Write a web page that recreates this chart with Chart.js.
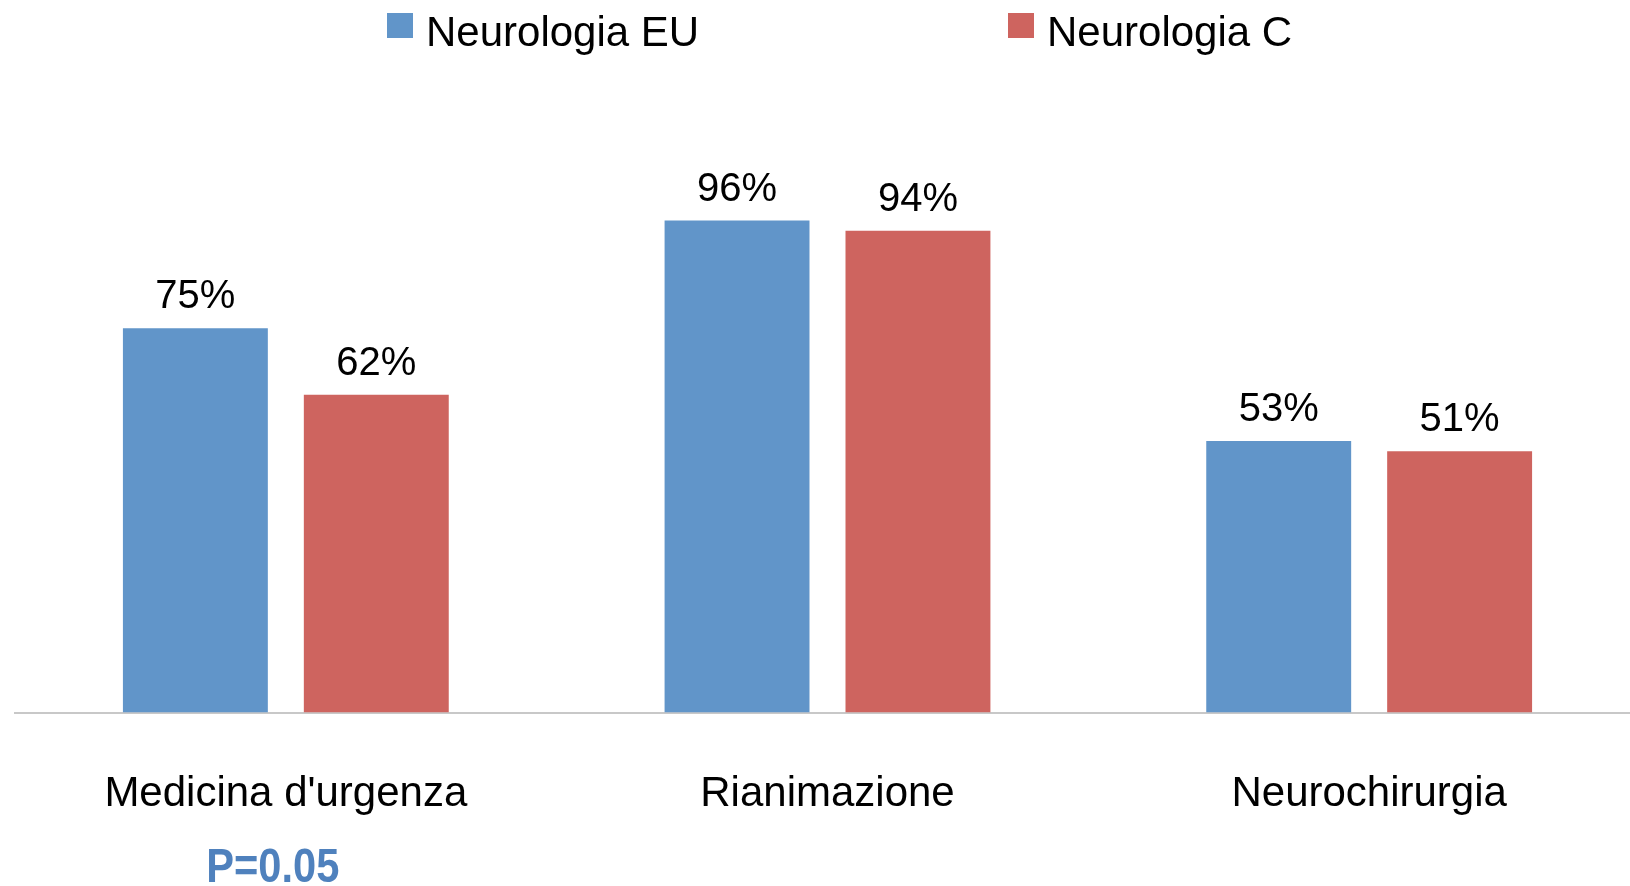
<!DOCTYPE html>
<html>
<head>
<meta charset="utf-8">
<script src="https://cdn.jsdelivr.net/npm/chart.js@4"></script>
<style>
  html, body { margin: 0; padding: 0; background: #fff; overflow: hidden; }
  #wrap { width: 1640px; height: 886px; }
</style>
</head>
<body>
<div id="wrap"><canvas id="chart" width="1640" height="886"></canvas></div>
<script>
// dati del grafico
const categories = ["Medicina d'urgenza", 'Rianimazione', 'Neurochirurgia'];
const seriesNames = ['Neurologia EU', 'Neurologia C'];
const valuesEU = [75, 96, 53];
const valuesC = [62, 94, 51];
const pLabels = ['P=0.05', '', ''];

const blue = 'rgb(97,149,201)';
const red = 'rgb(206,100,95)';
const FONT = "'Liberation Sans', Arial, sans-serif";

// legenda disegnata a mano (spaziatura larga come nell'originale)
const legendPlugin = {
    id: 'customLegend',
    afterDraw(chart) {
        const ctx = chart.ctx;
        const xs = [387, 1008];
        ctx.save();
        ctx.font = '42px ' + FONT;
        ctx.textBaseline = 'alphabetic';
        chart.data.datasets.forEach((ds, i) => {
            ctx.fillStyle = ds.backgroundColor;
            ctx.fillRect(xs[i], 13, 26, 25);
            ctx.fillStyle = '#000';
            ctx.fillText(ds.label, xs[i] + 39, 46);
        });
        ctx.restore();
    }
};

// etichette dei valori sopra le barre
const valueLabels = {
    id: 'valueLabels',
    afterDatasetsDraw(chart) {
        const ctx = chart.ctx;
        ctx.save();
        ctx.font = '40px ' + FONT;
        ctx.fillStyle = '#000';
        ctx.textAlign = 'center';
        ctx.textBaseline = 'alphabetic';
        chart.data.datasets.forEach((ds, i) => {
            chart.getDatasetMeta(i).data.forEach((bar, j) => {
                ctx.fillText(ds.data[j] + '%', bar.x, bar.y - 20);
            });
        });
        ctx.restore();
    }
};

// valore P sotto la categoria
const pValuePlugin = {
    id: 'pValue',
    afterDraw(chart) {
        const ctx = chart.ctx;
        const xScale = chart.scales.x;
        ctx.save();
        ctx.font = 'bold 49px ' + FONT;
        ctx.fillStyle = 'rgb(79,129,189)';
        ctx.textAlign = 'center';
        ctx.textBaseline = 'alphabetic';
        pLabels.forEach((txt, i) => {
            if (!txt) return;
            const x = xScale.getPixelForValue(i) - 13;
            ctx.save();
            ctx.translate(x, 882);
            ctx.scale(0.85, 1);
            ctx.fillText(txt, 0, 0);
            ctx.restore();
        });
        ctx.restore();
    }
};

const chart = new Chart(document.getElementById('chart'), {
    type: 'bar',
    data: {
        labels: categories,
        datasets: [
            { label: seriesNames[0], data: valuesEU, backgroundColor: blue },
            { label: seriesNames[1], data: valuesC, backgroundColor: red }
        ]
    },
    options: {
        responsive: false,
        animation: false,
        events: [],
        categoryPercentage: 0.668,
        barPercentage: 0.801,
        layout: { padding: { top: 200, left: 15, right: 0, bottom: 9 } },
        plugins: {
            legend: { display: false },
            tooltip: { enabled: false }
        },
        scales: {
            x: {
                grid: { display: false, drawTicks: false },
                border: { display: true, color: '#c8c8c8', width: 2 },
                ticks: {
                    color: '#000',
                    font: { family: FONT, size: 42 },
                    padding: 57,
                    maxRotation: 0
                }
            },
            y: {
                display: false,
                min: 0,
                max: 100
            }
        }
    },
    plugins: [legendPlugin, valueLabels, pValuePlugin]
});
</script>
</body>
</html>
